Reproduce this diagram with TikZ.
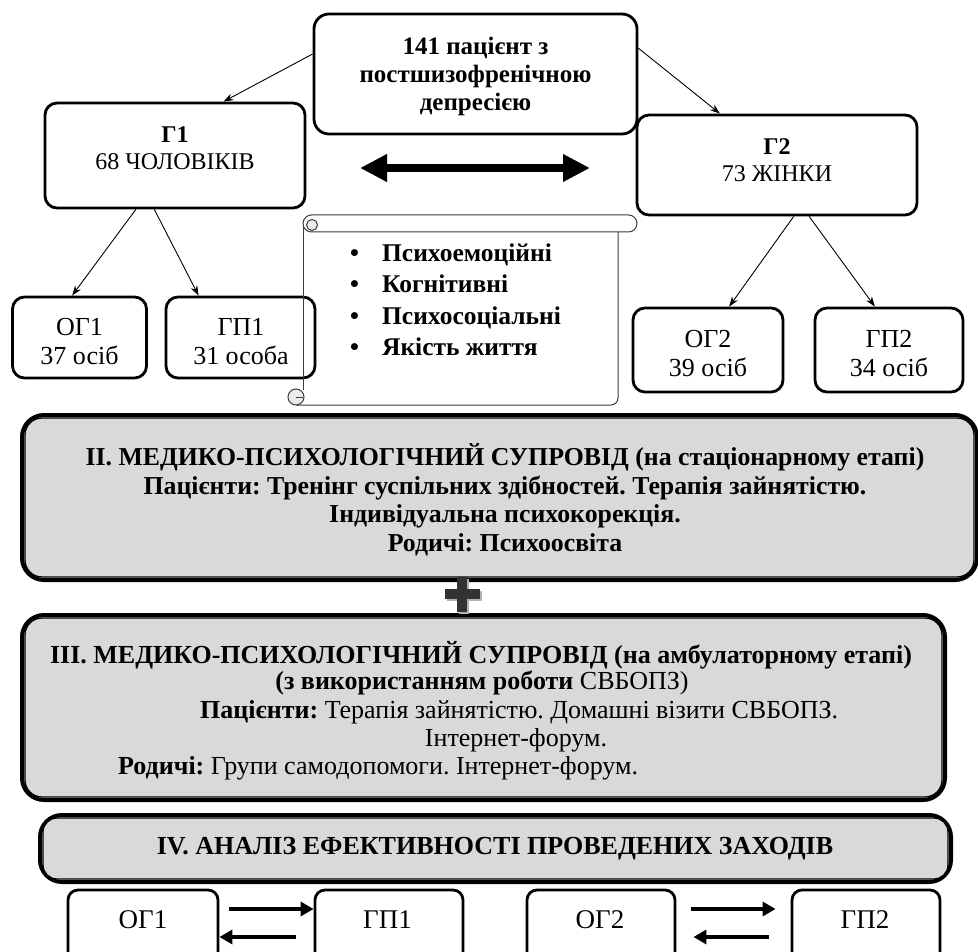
\documentclass[tikz,border=0pt]{standalone}
\usepackage{fontspec}
\setmainfont{Liberation Serif}
\usetikzlibrary{arrows.meta,calc}
\definecolor{boxgray}{RGB}{217,217,217}
\definecolor{scrollline}{RGB}{60,60,60}
\newcommand\myfs[2]{\fontsize{#1}{#2}\selectfont}
\frenchspacing
\begin{document}
\begin{tikzpicture}[x=1pt,y=-1pt,
  box/.style={draw, line width=2.8pt, rounded corners=12pt, inner sep=0pt},
  txt/.style={inner sep=0pt, align=center},
  thinarrow/.style={line width=0.9pt, -{Stealth[length=10pt,width=7pt]}},
  big/.style={draw, line width=4pt, rounded corners=22pt, fill=white, inner sep=0pt},
  inner/.style={draw, line width=1.3pt, fill=boxgray, rounded corners=17pt},
  barrow/.style={line width=4.5pt, -{Triangle[length=13pt,width=14pt]}}
]
\useasboundingbox (0,0) rectangle (978,952);
\clip (0,0) rectangle (978,952);

% ---------- top part ----------
\node[box, rounded corners=15pt, minimum width=323pt, minimum height=120pt] (top) at (475.5,74) {};
\node[txt, font=\bfseries\myfs{25}{28}] (toptxt) at (475.5,76) {141 пацієнт з\\постшизофренічною\\депресією};

\node[box, minimum width=260pt, minimum height=105pt] (g1) at (175,155.5) {};
\node[txt, font=\myfs{24}{27}] (g1t) at (175,148) {\textbf{Г1}\\68 ЧОЛОВІКІВ};

\node[box, minimum width=280pt, minimum height=100pt] (g2) at (777,165) {};
\node[txt, font=\myfs{24}{27}] (g2t) at (777,160) {\textbf{Г2}\\73 ЖІНКИ};

\node[box, minimum width=134pt, minimum height=81pt] (og1) at (79.5,337.5) {};
\node[txt, font=\myfs{26}{29}] (og1t) at (79.5,342) {ОГ1\\37 осіб};
\node[box, minimum width=149pt, minimum height=81pt] (gp1) at (240.5,337.5) {};
\node[txt, font=\myfs{26}{29}] (gp1t) at (241,342) {ГП1\\31 особа};

\node[box, minimum width=150pt, minimum height=84pt] (og2) at (708,350) {};
\node[txt, font=\myfs{26}{29}] (og2t) at (708,354) {ОГ2\\39 осіб};
\node[box, minimum width=148pt, minimum height=84pt] (gp2) at (889,350) {};
\node[txt, font=\myfs{26}{29}] (gp2t) at (889,354) {ГП2\\34 осіб};

\draw[thinarrow] (top.173) -- (g1.48);
\draw[thinarrow] (top.9.5) -- (g2.138);
\draw[thinarrow] (g1.234) -- (og1.100);
\draw[thinarrow] (g1.249.5) -- (gp1.135);
\draw[thinarrow] (g2.-72) -- (og2.64.5);
\draw[thinarrow] (g2.-58) -- (gp2.108);

\coordinate (dl) at (360,168);
\coordinate (dr) at (590,168);
\draw[line width=8pt, {Triangle[length=27pt,width=26pt]}-{Triangle[length=27pt,width=26pt]}] (dl) -- (dr);

% ---------- scroll ----------
\draw[scrollline, line width=1pt, fill=white, rounded corners=8.5pt] (303,215) rectangle (637,232);
\draw[scrollline, line width=1pt, fill=gray!15] (312,225) circle (5.5pt);
\draw[scrollline, line width=1pt] (303,225) -- (303,390);
\draw[scrollline, line width=1pt, rounded corners=7pt] (618,232) -- (618,405) -- (296,405);
\draw[scrollline, line width=1pt, fill=gray!15] (296,397) circle (8pt);
\draw[scrollline, line width=1pt] (296,397) -- (303,397);
\node[txt, anchor=west, font=\bfseries\myfs{25.5}{31.5}] (sct) at (350,302)
  {\begin{tabular}{@{}l@{\hspace{23pt}}l@{}}
   \textbullet & Психоемоційні\\
   \textbullet & Когнітивні\\
   \textbullet & Психосоціальні\\
   \textbullet & Якість життя
   \end{tabular}};

% ---------- box II ----------
\node[big, minimum width=955pt, minimum height=165pt] (b2) at (499.5,497.5) {};
\draw[inner] ([shift={(5,5)}]b2.north west) rectangle ([shift={(-5,-5)}]b2.south east);
\node[txt, font=\bfseries\myfs{25.8}{28.5}] (b2t) at (505,500)
  {II. МЕДИКО-ПСИХОЛОГІЧНИЙ СУПРОВІД (на стаціонарному етапі)\\
   Пацієнти: Тренінг суспільних здібностей. Терапія зайнятістю.\\
   Індивідуальна психокорекція.\\
   Родичі: Психоосвіта};

% ---------- box III ----------
\node[big, minimum width=923pt, minimum height=185pt] (b3) at (483.5,707.5) {};
\draw[inner] ([shift={(5,5)}]b3.north west) rectangle ([shift={(-5,-5)}]b3.south east);
\node[txt, font=\myfs{26}{28}] (b3a) at (481,655) {\textbf{III. МЕДИКО-ПСИХОЛОГІЧНИЙ СУПРОВІД (на амбулаторному етапі)}};
\node[txt, font=\myfs{26}{28}] (b3b) at (482,683) {\textbf{(з використанням роботи} СВБОПЗ)};
\node[txt, font=\myfs{26}{28}, anchor=west] (b3c) at (200,712) {\textbf{Пацієнти:} Терапія зайнятістю. Домашні візити СВБОПЗ.};
\node[txt, font=\myfs{26}{28}] (b3d) at (516,740) {Інтернет-форум.};
\node[txt, font=\myfs{26}{28}, anchor=west] (b3e) at (118,768) {\textbf{Родичі:} Групи самодопомоги. Інтернет-форум.};

% ---------- plus ----------
\fill[gray!60] (459,579) rectangle (469,614);
\fill[gray!60] (447,591) rectangle (482,601);
\fill[black!80] (457,577) rectangle (467,612);
\fill[black!80] (445,589) rectangle (480,599);

% ---------- box IV ----------
\node[big, minimum width=911pt, minimum height=67pt] (b4) at (495.5,848.5) {};
\draw[inner, rounded corners=14pt] ([shift={(5,5)}]b4.north west) rectangle ([shift={(-5,-5)}]b4.south east);
\node[txt, font=\bfseries\myfs{26}{28}] (b4t) at (495,849) {IV. АНАЛІЗ ЕФЕКТИВНОСТІ ПРОВЕДЕНИХ ЗАХОДІВ};

% ---------- bottom boxes ----------
\node[box, rounded corners=10pt, minimum width=150pt, minimum height=85pt] (og1b) at (143,932.5) {};
\node[box, rounded corners=10pt, minimum width=148pt, minimum height=85pt] (gp1b) at (389,932.5) {};
\node[box, rounded corners=10pt, minimum width=148pt, minimum height=85pt] (og2b) at (601,932.5) {};
\node[box, rounded corners=10pt, minimum width=148pt, minimum height=85pt] (gp2b) at (866,932.5) {};
\node[txt, font=\myfs{27}{29}] (og1bt) at (143,920) {ОГ1};
\node[txt, font=\myfs{27}{29}] (gp1bt) at (387.5,920) {ГП1};
\node[txt, font=\myfs{27}{29}] (og2bt) at (600,920) {ОГ2};
\node[txt, font=\myfs{27}{29}] (gp2bt) at (865,920) {ГП2};

\draw[barrow, shorten <=10pt] ([yshift=23.5pt]og1b.east) -- ([yshift=23.5pt]gp1b.west);
\draw[barrow, shorten <=18pt] ([yshift=-4.5pt]gp1b.west) -- ([yshift=-4.5pt]og1b.east);
\draw[barrow, shorten <=15pt, shorten >=15pt] ([yshift=23.5pt]og2b.east) -- ([yshift=23.5pt]gp2b.west);
\draw[barrow, shorten <=22pt, shorten >=17pt] ([yshift=-4.5pt]gp2b.west) -- ([yshift=-4.5pt]og2b.east);
\end{tikzpicture}
\end{document}
